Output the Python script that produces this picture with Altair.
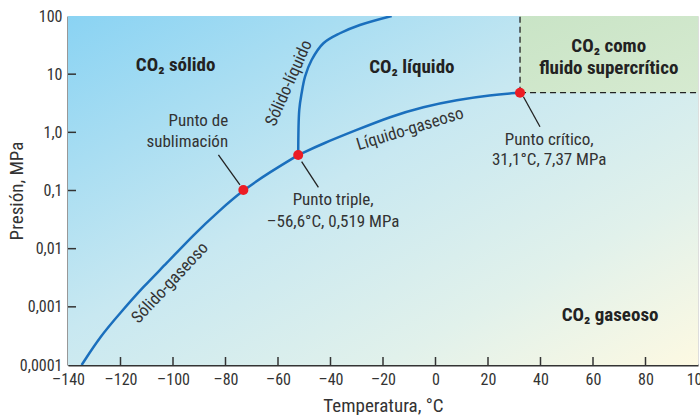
import altair as alt
import pandas as pd

# ---------------- data ----------------
sub_T = [-134.8, -127.8, -120.2, -111.3, -102.4, -92.3, -82.1, -73.2, -63.0, -52.3]
sub_P = [0.0001, 3.07e-4, 7.74e-4, 2.22e-3, 5.61e-3, 0.0172, 0.0462, 0.102, 0.208, 0.407]
melt_T = [-52.3, -51.9, -51.0, -49.7, -47.2, -42.7, -36.4, -28.8, -16.7]
melt_P = [0.407, 2.42, 4.69, 9.06, 17.5, 34, 50.5, 70, 100]
vap_T = [-52.3, -42.7, -30.0, -17.3, -4.6, 8.1, 20.8, 32.2]
vap_P = [0.407, 0.649, 1.10, 1.86, 2.76, 3.60, 4.39, 4.80]

pt_T = [-73.2, -52.3, 32.2]
pt_P = [0.102, 0.407, 4.80]

lead_T1 = [-82.7, -51.0, 33.5]
lead_P1 = [0.408, 0.313, 4.10]
lead_T2 = [-74.5, -44.6, 39.8]
lead_P2 = [0.1245, 0.1135, 1.25]

x_ticks = [-140, -120, -100, -80, -60, -40, -20, 0, 20, 40, 60, 80, 100]
x_labels = ["–140", "–120", "–100", "–80", "–60", "–40", "–20", "0", "20", "40", "60", "80", "100"]
y_ticks = [0.0001, 0.001, 0.01, 0.1, 1, 10, 100]
y_labels = ["0,0001", "0,001", "0,01", "0,1", "1,0", "10", "100"]

region_text = ["CO₂ sólido", "CO₂ líquido", "CO₂ como", "fluido supercrítico", "CO₂ gaseoso"]
region_T = [-99, -9, 66, 66, 66.5]
region_P = [14.4, 13.3, 30.5, 12.8, 7.2e-4]

right_text = ["Punto de", "sublimación"]
right_T = [-79, -79]
right_P = [1.57, 0.683]

center_text = ["Punto triple,", "–56,6°C, 0,519 MPa", "Punto crítico,", "31,1°C, 7,37 MPa"]
center_T = [-39, -39, 43.3, 43.3]
center_P = [0.0687, 0.0288, 0.738, 0.334]

curve_text = ["Sólido-líquido", "Líquido-gaseoso", "Sólido-gaseoso"]
curve_T = [-55.8, -9.7, -101.1]
curve_P = [7.0, 1.13, 0.00257]
curve_angle = [294, 343, 313]

T_min, T_max = -140, 100
P_min, P_max = 0.0001, 100
crit_T, crit_P = 32.2, 4.80

# ---------------- build ----------------
FONT = "Liberation Sans Narrow, Roboto Condensed, Roboto, sans-serif"
TXT = "#333333"
W, H = 630, 349

xs = alt.Scale(domain=[T_min, T_max], nice=False, zero=False)
ys = alt.Scale(type="log", domain=[P_min, P_max], nice=False)

def expr_from(vals, labs, log=False):
    e = "''"
    for v, l in reversed(list(zip(vals, labs))):
        thr = v * 1.5 if log else v + 5
        e = f"datum.value < {thr} ? '{l}' : ({e})"
    return e

xaxis = alt.Axis(values=x_ticks, labelExpr=expr_from(x_ticks, x_labels),
                 title="Temperatura, °C", tickSize=0, labelPadding=6,
                 grid=False, domainColor="#333", domainWidth=2,
                 labelFont=FONT, labelFontSize=16, labelColor=TXT,
                 titleFont=FONT, titleFontSize=19, titleFontWeight="normal",
                 titleColor=TXT, titleBaseline="alphabetic", titleY=46,
                 labelFlush=False, labelOverlap=False)
yaxis = alt.Axis(values=y_ticks, labelExpr=expr_from(y_ticks, y_labels, log=True),
                 title="Presión, MPa", tickSize=0, labelPadding=6,
                 grid=False, domainColor="#333", domainWidth=2,
                 labelFont=FONT, labelFontSize=16, labelColor=TXT,
                 titleFont=FONT, titleFontSize=19, titleFontWeight="normal",
                 titleColor=TXT, titleX=-42, titleY=H / 2,
                 labelFlush=False, labelOverlap=False)

X = lambda f: alt.X(f, type="quantitative", scale=xs, axis=xaxis, title="Temperatura, °C")
Y = lambda f: alt.Y(f, type="quantitative", scale=ys, axis=yaxis, title="Presión, MPa")

bg_df = pd.DataFrame({"T": [T_min], "T2": [T_max], "P": [P_min], "P2": [P_max]})
bg = alt.Chart(bg_df).mark_rect(
    color=alt.Gradient(
        gradient="linear",
        stops=[
            alt.GradientStop(color="#8ad3f3", offset=0),
            alt.GradientStop(color="#c8e8f1", offset=0.45),
            alt.GradientStop(color="#e1f1eb", offset=0.75),
            alt.GradientStop(color="#fdf9e2", offset=1),
        ],
        x1=0, y1=0, x2=1, y2=1,
    )
).encode(x=X("T"), x2="T2", y=Y("P"), y2="P2")

sc_df = pd.DataFrame({"T": [crit_T], "T2": [T_max], "P": [crit_P], "P2": [P_max]})
sc = alt.Chart(sc_df).mark_rect(
    color=alt.Gradient(
        gradient="linear",
        stops=[alt.GradientStop(color="#c9e4c6", offset=0),
               alt.GradientStop(color="#d6ead0", offset=1)],
        x1=0, y1=0, x2=1, y2=1,
    )
).encode(x=X("T"), x2="T2", y=Y("P"), y2="P2")

dash_df = pd.DataFrame({"T": [crit_T, crit_T], "T2": [crit_T, T_max],
                        "P": [crit_P, crit_P], "P2": [P_max, crit_P]})
dash = alt.Chart(dash_df).mark_rule(color="#222", strokeWidth=1.3, strokeDash=[6, 4]).encode(
    x=X("T"), x2="T2", y=Y("P"), y2="P2")

def curve_df(Ts, Ps):
    return pd.DataFrame({"o": list(range(len(Ts))), "T": Ts, "P": Ps})

line_kw = dict(color="#1a6fbd", strokeWidth=2.5, clip=True)
c_sub = alt.Chart(curve_df(sub_T, sub_P)).mark_line(interpolate="basis", **line_kw).encode(
    x=X("T"), y=Y("P"), order="o:Q")
c_melt = alt.Chart(curve_df(melt_T, melt_P)).mark_line(interpolate="catmull-rom", **line_kw).encode(
    x=X("T"), y=Y("P"), order="o:Q")
c_vap = alt.Chart(curve_df(vap_T, vap_P)).mark_line(interpolate="basis", **line_kw).encode(
    x=X("T"), y=Y("P"), order="o:Q")

lead_df = pd.DataFrame({"T": lead_T1, "P": lead_P1, "T2": lead_T2, "P2": lead_P2})
leads = alt.Chart(lead_df).mark_rule(color="#222", strokeWidth=1.3).encode(
    x=X("T"), y=Y("P"), x2="T2", y2="P2")

pts = alt.Chart(pd.DataFrame({"T": pt_T, "P": pt_P})).mark_circle(
    color="#ec1c24", opacity=1, size=100).encode(x=X("T"), y=Y("P"))

xt_df = pd.DataFrame({"T": x_ticks[1:-1]})
xt = alt.Chart(xt_df).mark_rule(color="#333", strokeWidth=1.5).encode(
    x=X("T"), y=alt.value(H), y2=alt.value(H - 8))
yt_df = pd.DataFrame({"P": y_ticks[1:-1]})
yt = alt.Chart(yt_df).mark_rule(color="#333", strokeWidth=1.5).encode(
    y=Y("P"), x=alt.value(0), x2=alt.value(8))

reg = alt.Chart(pd.DataFrame({"t": region_text, "T": region_T, "P": region_P})).mark_text(
    font=FONT, fontSize=19, fontWeight="bold", color="#222", align="center", baseline="middle"
).encode(x=X("T"), y=Y("P"), text="t:N")

rt = alt.Chart(pd.DataFrame({"t": right_text, "T": right_T, "P": right_P})).mark_text(
    font=FONT, fontSize=17, color=TXT, align="right", baseline="middle"
).encode(x=X("T"), y=Y("P"), text="t:N")

ct = alt.Chart(pd.DataFrame({"t": center_text, "T": center_T, "P": center_P})).mark_text(
    font=FONT, fontSize=17, color=TXT, align="center", baseline="middle"
).encode(x=X("T"), y=Y("P"), text="t:N")

cv = alt.Chart(pd.DataFrame({"t": curve_text, "T": curve_T, "P": curve_P, "a": curve_angle})).mark_text(
    font=FONT, fontSize=17, color=TXT, align="center", baseline="middle"
).encode(x=X("T"), y=Y("P"), text="t:N", angle=alt.Angle("a:Q", scale=None))

chart = alt.layer(bg, sc, dash, c_sub, c_melt, c_vap, leads, pts, xt, yt, reg, rt, ct, cv).properties(
    width=W, height=H,
    autosize=alt.AutoSizeParams(type="none"),
    padding={"left": 68, "top": 16, "right": 2, "bottom": 50},
).configure_view(stroke="#333", strokeWidth=1.5).configure(background="white")

chart.save("out.html", embed_options={"renderer": "svg", "actions": False})
